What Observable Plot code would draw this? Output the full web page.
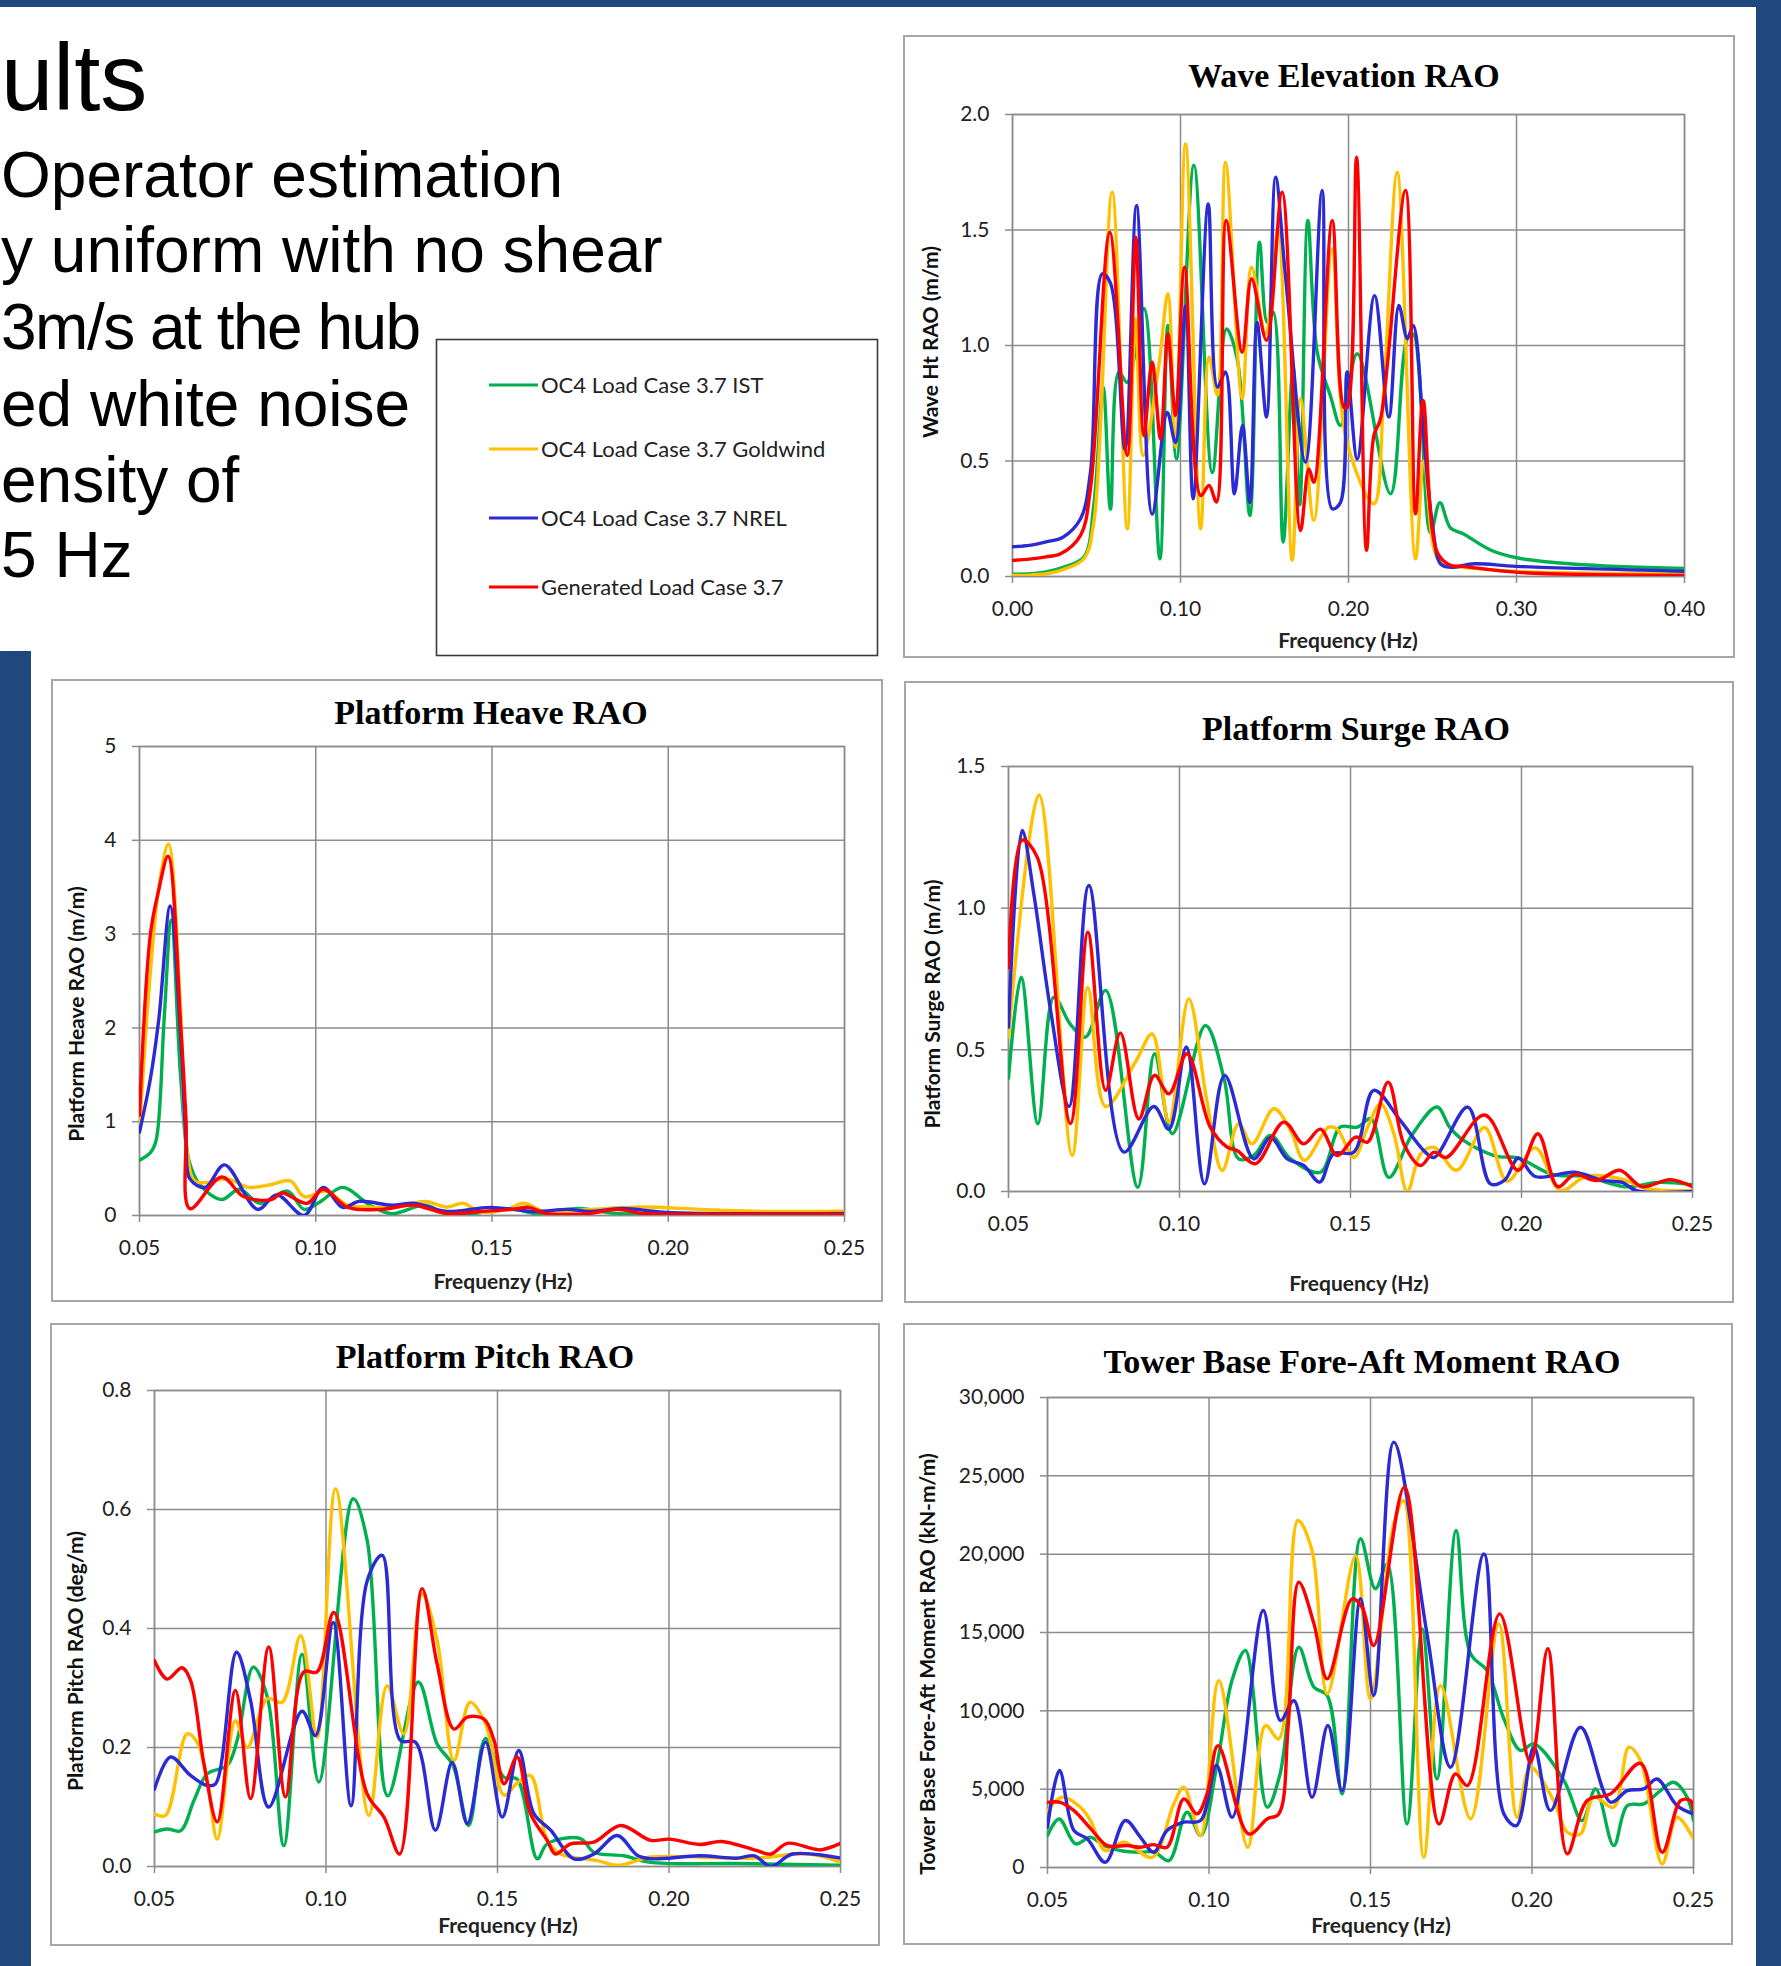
<!DOCTYPE html>
<html><head><meta charset="utf-8">
<script src="https://cdn.jsdelivr.net/npm/d3@7"></script>
<script src="https://cdn.jsdelivr.net/npm/@observablehq/plot@0.6"></script>
<style>
html,body{margin:0;padding:0;background:#fff;}
body{width:1781px;height:1966px;position:relative;overflow:hidden;}
.plotbox{position:absolute;}
</style>
</head><body>
<script>
// ---------------- DATA ----------------
const slideTitle = "ults";
const bodyLines = ["Operator estimation","y uniform with no shear","3m/s at the hub","ed white noise","ensity of","5 Hz"];
const legendLabels = ["OC4 Load Case 3.7 IST","OC4 Load Case 3.7 Goldwind","OC4 Load Case 3.7 NREL","Generated Load Case 3.7"];
const seriesColors = ["#00b050","#ffc000","#2b2bd6","#ff0000"];

// Wave Elevation RAO  [frequency Hz, RAO m/m]
const waveGreen = [[0,0.01],[0.01,0.012],[0.02,0.02],[0.03,0.04],[0.0425,0.084],[0.0484,0.31],[0.054,0.82],[0.0583,0.29],[0.0633,0.885],[0.0683,0.84],[0.0782,1.16],[0.0877,0.076],[0.0925,1.087],[0.0976,0.509],[0.108,1.78],[0.1189,0.45],[0.1274,1.072],[0.1338,0.94],[0.1413,0.264],[0.147,1.447],[0.1516,1.10],[0.1552,1.144],[0.1611,0.149],[0.167,0.91],[0.171,0.31],[0.1758,1.541],[0.1814,0.97],[0.1893,0.78],[0.1953,0.654],[0.2052,0.964],[0.225,0.358],[0.235,1.03],[0.2385,1.05],[0.2488,0.19],[0.2544,0.32],[0.2607,0.21],[0.268,0.186],[0.2845,0.115],[0.301,0.08],[0.335,0.053],[0.4,0.035]];
const waveYellow = [[0,0.005],[0.01,0.006],[0.02,0.012],[0.03,0.03],[0.0425,0.077],[0.0484,0.235],[0.0593,1.664],[0.0683,0.206],[0.0732,1.116],[0.0778,0.524],[0.0871,0.913],[0.0925,1.224],[0.097,0.56],[0.103,1.873],[0.112,0.206],[0.117,0.95],[0.122,0.784],[0.1268,1.794],[0.1367,0.77],[0.1423,1.339],[0.1506,1.05],[0.158,1.5],[0.1665,0.07],[0.1714,0.77],[0.1794,0.243],[0.1903,1.418],[0.1985,0.6],[0.2151,0.315],[0.221,0.80],[0.229,1.75],[0.2399,0.077],[0.245,0.5],[0.2528,0.08],[0.2607,0.045],[0.268,0.04],[0.30,0.022],[0.4,0.012]];
const waveBlue = [[0,0.129],[0.01,0.135],[0.02,0.15],[0.03,0.17],[0.0405,0.25],[0.0464,0.45],[0.0534,1.31],[0.0583,1.27],[0.067,0.55],[0.0738,1.606],[0.0831,0.27],[0.0921,0.71],[0.097,0.58],[0.103,1.17],[0.1075,0.336],[0.1165,1.613],[0.122,0.82],[0.1268,0.885],[0.1321,0.358],[0.1369,0.654],[0.1413,0.32],[0.1456,1.10],[0.1512,0.69],[0.1566,1.729],[0.1625,1.3],[0.1744,0.495],[0.1843,1.671],[0.1903,0.293],[0.1952,0.32],[0.1992,0.885],[0.2052,0.509],[0.2155,1.216],[0.224,0.69],[0.23,1.173],[0.235,1.03],[0.2385,1.087],[0.2449,0.596],[0.2498,0.235],[0.2548,0.055],[0.2607,0.04],[0.275,0.055],[0.30,0.044],[0.4,0.023]];
const waveRed = [[0,0.07],[0.01,0.075],[0.02,0.085],[0.0286,0.098],[0.0405,0.178],[0.0464,0.38],[0.0579,1.49],[0.0683,0.524],[0.0734,1.469],[0.0782,0.61],[0.0831,0.928],[0.0881,0.596],[0.0925,1.05],[0.097,0.697],[0.1024,1.339],[0.112,0.35],[0.117,0.394],[0.1214,0.322],[0.1272,1.541],[0.1367,0.971],[0.1423,1.289],[0.1512,1.022],[0.1605,1.664],[0.1714,0.199],[0.1764,0.466],[0.1794,0.408],[0.1903,1.541],[0.1972,0.733],[0.1992,0.733],[0.2048,1.815],[0.2107,0.113],[0.2151,0.61],[0.2191,0.683],[0.2339,1.671],[0.2399,0.271],[0.2444,0.762],[0.2528,0.105],[0.2607,0.048],[0.268,0.044],[0.301,0.018],[0.4,0.005]];

// Platform Heave RAO
const heaveGreen = [[0.05,0.59],[0.0531,0.67],[0.0547,0.8],[0.057,2.1],[0.059,3.15],[0.0617,1.46],[0.064,0.59],[0.0671,0.33],[0.0733,0.17],[0.0783,0.28],[0.0842,0.13],[0.092,0.26],[0.0967,0.065],[0.1014,0.15],[0.1076,0.30],[0.1154,0.11],[0.1216,0.02],[0.131,0.11],[0.137,0.02],[0.1465,0.03],[0.1558,0.074],[0.162,0.022],[0.1745,0.074],[0.1854,0.022],[0.201,0.022],[0.25,0.013]];
const heaveYellow = [[0.05,0.93],[0.0531,2.6],[0.0555,3.5],[0.0582,3.96],[0.0615,2.3],[0.0632,0.8],[0.0656,0.37],[0.0687,0.35],[0.0749,0.39],[0.0811,0.30],[0.0874,0.33],[0.0928,0.37],[0.0967,0.2],[0.1029,0.26],[0.1091,0.11],[0.1154,0.09],[0.1232,0.09],[0.131,0.15],[0.1372,0.09],[0.1418,0.13],[0.1465,0.04],[0.1543,0.065],[0.159,0.13],[0.1652,0.04],[0.1776,0.065],[0.193,0.09],[0.209,0.065],[0.224,0.045],[0.25,0.045]];
const heaveBlue = [[0.05,0.89],[0.0531,1.46],[0.0555,2.1],[0.0587,3.30],[0.0617,1.89],[0.0632,0.80],[0.0643,0.39],[0.0687,0.30],[0.0741,0.54],[0.0835,0.065],[0.0889,0.22],[0.0967,0.0],[0.1021,0.30],[0.1076,0.087],[0.1123,0.15],[0.1216,0.11],[0.1278,0.13],[0.1372,0.043],[0.1496,0.087],[0.162,0.043],[0.1714,0.065],[0.1776,0.043],[0.187,0.074],[0.201,0.03],[0.25,0.022]];
const heaveRed = [[0.05,1.07],[0.0531,3.0],[0.0554,3.46],[0.0581,3.83],[0.0617,2.02],[0.0632,1.02],[0.0643,0.074],[0.0733,0.41],[0.0796,0.2],[0.0874,0.17],[0.0905,0.24],[0.0975,0.13],[0.1021,0.28],[0.1091,0.087],[0.1185,0.065],[0.1278,0.11],[0.1372,0.022],[0.1465,0.043],[0.1558,0.065],[0.1605,0.087],[0.1652,0.022],[0.1776,0.022],[0.1854,0.065],[0.193,0.022],[0.21,0.015],[0.25,0.015]];

// Platform Surge RAO
const surgeGreen = [[0.05,0.40],[0.0537,0.756],[0.0586,0.239],[0.0633,0.686],[0.0681,0.59],[0.0725,0.545],[0.0784,0.71],[0.0878,0.015],[0.0927,0.486],[0.0979,0.204],[0.1076,0.586],[0.113,0.40],[0.1173,0.115],[0.1217,0.127],[0.1266,0.198],[0.1325,0.115],[0.1412,0.068],[0.147,0.227],[0.152,0.227],[0.156,0.257],[0.1612,0.05],[0.168,0.2],[0.1753,0.298],[0.179,0.227],[0.1827,0.183],[0.1925,0.125],[0.199,0.118],[0.209,0.06],[0.2188,0.053],[0.2303,0.017],[0.240,0.032],[0.25,0.024]];
const surgeYellow = [[0.05,0.545],[0.0589,1.40],[0.0686,0.127],[0.0732,0.72],[0.0784,0.30],[0.0871,0.457],[0.092,0.556],[0.0969,0.245],[0.1027,0.68],[0.108,0.32],[0.1125,0.074],[0.1173,0.239],[0.1212,0.168],[0.1276,0.292],[0.1325,0.215],[0.1365,0.11],[0.1436,0.227],[0.1461,0.22],[0.151,0.12],[0.155,0.227],[0.1588,0.31],[0.1627,0.203],[0.1666,0.0],[0.1705,0.133],[0.1744,0.156],[0.181,0.075],[0.1892,0.226],[0.1958,0.036],[0.204,0.154],[0.2114,0.003],[0.2188,0.053],[0.2287,0.046],[0.2368,0.01],[0.25,0.003]];
const surgeBlue = [[0.05,0.58],[0.054,1.274],[0.0574,1.05],[0.0623,0.64],[0.0677,0.30],[0.0735,1.08],[0.0837,0.139],[0.0925,0.30],[0.0969,0.22],[0.102,0.51],[0.1073,0.027],[0.1132,0.41],[0.1217,0.115],[0.1266,0.19],[0.1315,0.115],[0.1363,0.092],[0.141,0.033],[0.145,0.133],[0.151,0.139],[0.1568,0.357],[0.1646,0.25],[0.1714,0.145],[0.1744,0.12],[0.1843,0.298],[0.1909,0.027],[0.195,0.039],[0.1991,0.118],[0.204,0.053],[0.2155,0.068],[0.2237,0.039],[0.2295,0.032],[0.2336,0.003],[0.25,0.0]];
const surgeRed = [[0.05,0.79],[0.054,1.24],[0.0584,1.18],[0.0681,0.24],[0.0732,0.915],[0.0784,0.357],[0.0827,0.56],[0.0881,0.256],[0.0927,0.41],[0.0969,0.345],[0.1022,0.486],[0.109,0.227],[0.1139,0.157],[0.1168,0.145],[0.1222,0.098],[0.1305,0.245],[0.1363,0.168],[0.1412,0.22],[0.1461,0.127],[0.1515,0.192],[0.155,0.174],[0.161,0.386],[0.1656,0.168],[0.1705,0.092],[0.1744,0.139],[0.178,0.12],[0.1892,0.27],[0.199,0.075],[0.2048,0.204],[0.2106,0.017],[0.2155,0.06],[0.222,0.039],[0.2287,0.075],[0.2352,0.017],[0.2434,0.042],[0.25,0.017]];

// Platform Pitch RAO
const pitchGreen = [[0.05,0.058],[0.0537,0.063],[0.0576,0.06],[0.0615,0.111],[0.0654,0.156],[0.0712,0.17],[0.0741,0.212],[0.0788,0.335],[0.0829,0.285],[0.0877,0.035],[0.093,0.357],[0.0979,0.142],[0.1079,0.618],[0.112,0.548],[0.118,0.119],[0.1269,0.31],[0.1324,0.206],[0.137,0.17],[0.1416,0.069],[0.1465,0.215],[0.1519,0.15],[0.1557,0.147],[0.1616,0.013],[0.1645,0.038],[0.1742,0.047],[0.1781,0.024],[0.1868,0.018],[0.1946,0.007],[0.22,0.005],[0.25,0.002]];
const pitchYellow = [[0.05,0.088],[0.0532,0.086],[0.0595,0.223],[0.0624,0.209],[0.0654,0.144],[0.0683,0.046],[0.0736,0.245],[0.077,0.2],[0.0829,0.282],[0.0872,0.276],[0.0926,0.388],[0.0974,0.217],[0.1028,0.635],[0.1125,0.086],[0.1178,0.304],[0.1227,0.223],[0.128,0.458],[0.1324,0.38],[0.1373,0.178],[0.142,0.276],[0.1465,0.24],[0.1519,0.12],[0.1557,0.14],[0.1596,0.153],[0.1645,0.044],[0.1684,0.021],[0.179,0.01],[0.185,0.002],[0.1907,0.01],[0.1946,0.016],[0.2249,0.014],[0.2409,0.021],[0.25,0.007]];
const pitchBlue = [[0.05,0.13],[0.0547,0.184],[0.0605,0.153],[0.0654,0.136],[0.0678,0.139],[0.0739,0.36],[0.078,0.279],[0.0833,0.1],[0.093,0.261],[0.0969,0.22],[0.1021,0.41],[0.1073,0.102],[0.112,0.48],[0.1164,0.523],[0.1217,0.212],[0.1261,0.209],[0.1319,0.061],[0.1368,0.175],[0.1412,0.072],[0.1465,0.209],[0.1514,0.083],[0.1562,0.195],[0.1606,0.089],[0.1655,0.061],[0.1723,0.013],[0.1781,0.021],[0.1849,0.052],[0.1907,0.019],[0.1946,0.013],[0.2089,0.018],[0.22,0.014],[0.2249,0.018],[0.2297,0.0],[0.236,0.021],[0.25,0.014]];
const pitchRed = [[0.05,0.346],[0.0537,0.315],[0.058,0.334],[0.0605,0.313],[0.0644,0.173],[0.0683,0.075],[0.0736,0.296],[0.078,0.114],[0.0833,0.369],[0.0882,0.117],[0.0935,0.327],[0.0974,0.327],[0.1023,0.427],[0.112,0.122],[0.1169,0.083],[0.1215,0.021],[0.128,0.467],[0.1324,0.34],[0.1373,0.231],[0.1412,0.251],[0.146,0.248],[0.149,0.212],[0.1519,0.139],[0.1557,0.184],[0.1596,0.089],[0.1645,0.044],[0.1669,0.021],[0.1713,0.038],[0.1781,0.041],[0.1859,0.069],[0.1946,0.044],[0.2001,0.046],[0.2089,0.037],[0.2153,0.042],[0.2249,0.028],[0.2297,0.021],[0.2345,0.039],[0.2441,0.028],[0.25,0.039]];

// Tower Base Fore-Aft Moment RAO
const towerGreen = [[0.05,2040],[0.0536,3100],[0.0587,1510],[0.0633,1930],[0.0674,1400],[0.0726,1080],[0.0788,970],[0.083,1000],[0.0876,440],[0.0932,3530],[0.0974,2040],[0.1025,6600],[0.1072,12000],[0.1113,13850],[0.118,3850],[0.122,5970],[0.1278,14060],[0.1325,11510],[0.1366,10980],[0.1412,4700],[0.1469,20980],[0.1515,17790],[0.1552,19380],[0.1613,2780],[0.166,15230],[0.1706,5650],[0.1765,21510],[0.181,13640],[0.1861,12570],[0.1913,9490],[0.1964,7470],[0.2006,7890],[0.2099,5550],[0.2155,2990],[0.2197,5020],[0.2253,1400],[0.2295,3950],[0.2346,4060],[0.2398,4910],[0.2439,5440],[0.248,4490],[0.25,3000]];
const towerYellow = [[0.05,3630],[0.0545,4490],[0.0602,3850],[0.0633,3000],[0.0679,1080],[0.0736,1620],[0.0824,650],[0.0891,4060],[0.0922,5120],[0.0974,2040],[0.103,11930],[0.112,1290],[0.1175,9060],[0.1216,8210],[0.1275,22150],[0.1319,20230],[0.1366,11080],[0.1454,19910],[0.15,10760],[0.1572,21930],[0.1603,23420],[0.1665,650],[0.1717,11610],[0.181,3100],[0.1897,15550],[0.1954,3210],[0.1995,6400],[0.2067,4270],[0.2109,2250],[0.215,2140],[0.2191,4490],[0.2253,3850],[0.23,7680],[0.2336,6830],[0.2403,230],[0.2449,3210],[0.25,1830]];
const towerBlue = [[0.05,2570],[0.0537,6190],[0.0582,2360],[0.0623,1830],[0.0679,335],[0.0741,3000],[0.0788,1930],[0.0829,970],[0.087,2360],[0.0922,2890],[0.0974,3000],[0.1023,6510],[0.1072,3200],[0.1168,16400],[0.1221,9380],[0.1263,10650],[0.1319,4480],[0.1368,9060],[0.1412,4910],[0.1469,17150],[0.151,10980],[0.1572,27150],[0.1675,14900],[0.1748,6400],[0.1851,20020],[0.1913,3420],[0.1952,2680],[0.2006,7680],[0.2057,3630],[0.215,8950],[0.2243,4170],[0.2295,4910],[0.2346,5020],[0.2387,5650],[0.2449,3950],[0.25,3420]];
const towerRed = [[0.05,4160],[0.054,4160],[0.0582,3630],[0.0633,2500],[0.0685,1400],[0.0747,1400],[0.0788,1290],[0.0829,1460],[0.087,1290],[0.0922,4380],[0.0963,3420],[0.0994,4700],[0.1028,7780],[0.1123,2140],[0.118,3100],[0.1216,3420],[0.1245,9000],[0.1278,18210],[0.1325,15550],[0.1366,12040],[0.1443,17150],[0.1474,16620],[0.151,14170],[0.1605,24280],[0.1712,2780],[0.1763,5970],[0.18,5230],[0.19,16190],[0.1995,6720],[0.2049,13960],[0.2109,870],[0.2171,4270],[0.2243,4700],[0.2336,6650],[0.2403,970],[0.246,4270],[0.2491,4270],[0.25,3630]];

const freqTicksWave = [0,0.1,0.2,0.3,0.4];
const freqTicks = [0.05,0.10,0.15,0.20,0.25];
const waveTicks = [0,0.5,1.0,1.5,2.0];
const heaveTicks = [0,1,2,3,4,5];
const surgeTicks = [0,0.5,1.0,1.5];
const pitchTicks = [0,0.2,0.4,0.6,0.8];
const towerTicks = [0,5000,10000,15000,20000,25000,30000];

// ---------------- LAYOUT ----------------
const GRID = "#8c8c8c";
const charts = [
  {title:"Wave Elevation RAO", xlab:"Frequency (Hz)", ylab:"Wave Ht RAO (m/m)",
   xd:[0,0.4], xt:freqTicksWave, xf:d3.format(".2f"), yd:[0,2], yt:waveTicks, yf:d3.format(".1f"),
   series:[waveGreen,waveYellow,waveBlue,waveRed],
   panel:[903,35,832,623], area:[1012,1684,114,576], tpos:[1344,87], xpos:[1348,641], ypos:[931,342]},
  {title:"Platform Heave RAO", xlab:"Frequenzy (Hz)", ylab:"Platform Heave RAO (m/m)",
   xd:[0.05,0.25], xt:freqTicks, xf:d3.format(".2f"), yd:[0,5], yt:heaveTicks, yf:d3.format("d"),
   series:[heaveGreen,heaveYellow,heaveBlue,heaveRed],
   panel:[51,679,832,623], area:[139,844,746,1215], tpos:[491,724], xpos:[503,1282], ypos:[77,1014]},
  {title:"Platform Surge RAO", xlab:"Frequency (Hz)", ylab:"Platform Surge RAO (m/m)",
   xd:[0.05,0.25], xt:freqTicks, xf:d3.format(".2f"), yd:[0,1.5], yt:surgeTicks, yf:d3.format(".1f"),
   series:[surgeGreen,surgeYellow,surgeBlue,surgeRed],
   panel:[904,681,830,622], area:[1008,1692,766,1191], tpos:[1356,740], xpos:[1359,1284], ypos:[933,1004]},
  {title:"Platform Pitch RAO", xlab:"Frequency (Hz)", ylab:"Platform Pitch RAO (deg/m)",
   xd:[0.05,0.25], xt:freqTicks, xf:d3.format(".2f"), yd:[0,0.8], yt:pitchTicks, yf:d3.format(".1f"),
   series:[pitchGreen,pitchYellow,pitchBlue,pitchRed],
   panel:[50,1323,830,623], area:[154,840,1390,1866], tpos:[485,1368], xpos:[508,1926], ypos:[76,1661]},
  {title:"Tower Base Fore-Aft Moment RAO", xlab:"Frequency (Hz)", ylab:"Tower Base Fore-Aft Moment RAO (kN-m/m)",
   xd:[0.05,0.25], xt:freqTicks, xf:d3.format(".2f"), yd:[0,30000], yt:towerTicks, yf:d3.format(",d"),
   series:[towerGreen,towerYellow,towerBlue,towerRed],
   panel:[903,1323,830,622], area:[1047,1693,1397,1867], tpos:[1362,1373], xpos:[1381,1926], ypos:[928,1664]}
];

// ---------------- STATIC LAYER ----------------
const bg = d3.select("body").append("svg")
  .attr("width",1781).attr("height",1966)
  .style("position","absolute").style("left","0px").style("top","0px");

const BAR = "#1f497d";
bg.append("rect").attr("x",0).attr("y",0).attr("width",1781).attr("height",7).attr("fill",BAR);
bg.append("rect").attr("x",1756).attr("y",0).attr("width",25).attr("height",1966).attr("fill",BAR);
bg.append("rect").attr("x",0).attr("y",651).attr("width",31).attr("height",1315).attr("fill",BAR);

const sans = "'Liberation Sans', Arial, sans-serif";
bg.append("text").attr("x",1).attr("y",110).attr("font-family",sans).attr("font-size",94).text(slideTitle);
const bodyY = [197,272,349,426,502,577];
const bodySpacing = [0,0,-1.5,0,0,0];
bodyLines.forEach((t,i)=>{
  bg.append("text").attr("x",1).attr("y",bodyY[i]).attr("font-family",sans).attr("font-size",64)
    .attr("letter-spacing",bodySpacing[i]).text(t);
});

// legend
bg.append("rect").attr("x",436.5).attr("y",339.5).attr("width",441).attr("height",316)
  .attr("fill","#fff").attr("stroke","#3a3a3a").attr("stroke-width",1.6);
const legY = [385,449,518,587];
legendLabels.forEach((t,i)=>{
  bg.append("line").attr("x1",489).attr("x2",538).attr("y1",legY[i]).attr("y2",legY[i])
    .attr("stroke",seriesColors[i]).attr("stroke-width",3);
  bg.append("text").attr("x",541).attr("y",legY[i]).attr("dy","0.35em")
    .attr("font-family","Lato, 'Open Sans', sans-serif").attr("font-size",22).attr("fill","#222").text(t);
});

// panels and chart texts
charts.forEach(c=>{
  const [l,t,w,h] = c.panel;
  bg.append("rect").attr("x",l+1).attr("y",t+1).attr("width",w-2).attr("height",h-2)
    .attr("fill","#fff").attr("stroke","#a6a6a6").attr("stroke-width",2);
  bg.append("text").attr("x",c.tpos[0]).attr("y",c.tpos[1]).attr("text-anchor","middle")
    .attr("font-family","'Liberation Serif','Times New Roman',serif").attr("font-weight","bold")
    .attr("font-size",34).text(c.title);
  bg.append("text").attr("x",c.xpos[0]).attr("y",c.xpos[1]).attr("dy","0.35em").attr("text-anchor","middle")
    .attr("font-family","Lato, 'Open Sans', sans-serif").attr("font-weight","bold").attr("font-size",21)
    .attr("fill","#222").text(c.xlab);
  bg.append("text").attr("transform",`translate(${c.ypos[0]},${c.ypos[1]}) rotate(-90)`).attr("dy","0.35em")
    .attr("text-anchor","middle")
    .attr("font-family","Lato, 'Open Sans', sans-serif").attr("font-weight","bold").attr("font-size",21)
    .attr("fill","#111").text(c.ylab);
});

// ---------------- CHARTS ----------------
const ML=110, MR=16, MT=16, MB=56;
charts.forEach(c=>{
  const [x0,x1,y0,y1] = c.area;
  const W = x1-x0+ML+MR, H = y1-y0+MT+MB;
  const svg = Plot.plot({
    width:W, height:H, marginLeft:ML, marginRight:MR, marginTop:MT, marginBottom:MB,
    style:{background:"transparent", fontFamily:"Lato, 'Open Sans', sans-serif", fontSize:"21px", color:"#222", overflow:"visible"},
    x:{domain:c.xd},
    y:{domain:c.yd},
    marks:[
      Plot.gridX(c.xt,{stroke:GRID, strokeOpacity:1, strokeWidth:1.5}),
      Plot.gridY(c.yt,{stroke:GRID, strokeOpacity:1, strokeWidth:1.5}),
      Plot.frame({stroke:GRID, strokeWidth:1.5}),
      Plot.axisX(c.xt,{tickFormat:c.xf, tickSize:7, tickPadding:18, stroke:GRID, strokeWidth:1.5, label:null}),
      Plot.axisY(c.yt,{tickFormat:c.yf, tickSize:7, tickPadding:16, stroke:GRID, strokeWidth:1.5, label:null}),
      ...c.series.map((s,i)=>Plot.line(s,{x:d=>d[0], y:d=>d[1], stroke:seriesColors[i], strokeWidth:3.4, curve:"catmull-rom", clip:true}))
    ]
  });
  const div = document.createElement("div");
  div.className = "plotbox";
  div.style.left = (x0-ML)+"px";
  div.style.top = (y0-MT)+"px";
  div.style.width = W+"px";
  div.style.height = H+"px";
  div.appendChild(svg);
  document.body.appendChild(div);
});
</script>
</body></html>
